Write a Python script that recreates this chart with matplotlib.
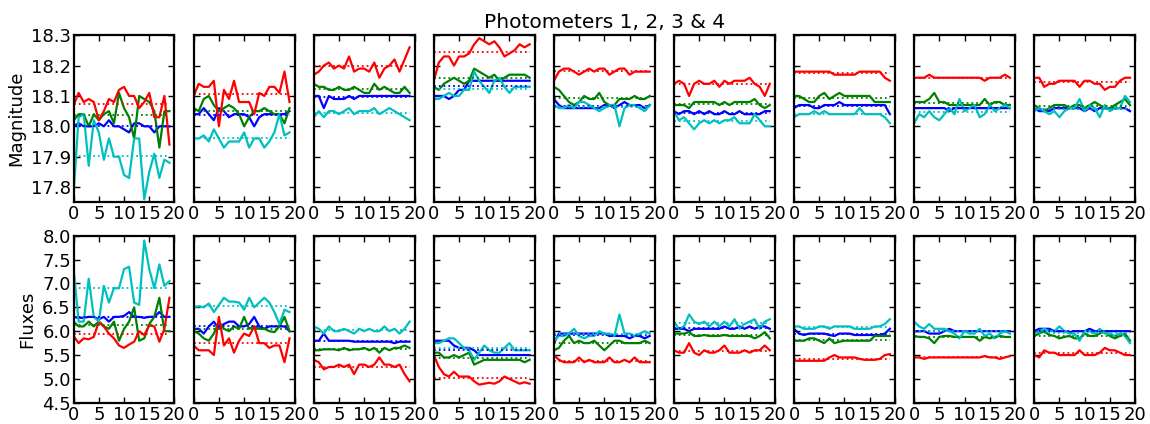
import numpy as np
import matplotlib
matplotlib.use('Agg')
import matplotlib.pyplot as plt

# 20 samples per run, 9 runs, 4 photometers (b, g, r, c)
samples = np.arange(20)

mag_b = [
    [18.00, 18.01, 18.00, 18.00, 18.00, 18.01, 18.00, 18.02, 18.00, 18.00, 17.99, 17.98, 18.01, 18.01, 18.00, 18.00, 17.98, 18.00, 18.00, 18.00],
    [18.04, 18.04, 18.06, 18.04, 18.02, 18.06, 18.05, 18.03, 18.04, 18.04, 18.04, 18.03, 18.00, 18.03, 18.04, 18.04, 18.04, 18.04, 18.04, 18.05],
    [18.10, 18.10, 18.06, 18.10, 18.09, 18.09, 18.09, 18.10, 18.09, 18.10, 18.10, 18.10, 18.10, 18.10, 18.10, 18.10, 18.10, 18.10, 18.10, 18.10],
    [18.10, 18.10, 18.10, 18.09, 18.10, 18.12, 18.12, 18.15, 18.15, 18.15, 18.15, 18.15, 18.15, 18.15, 18.15, 18.15, 18.15, 18.15, 18.15, 18.15],
    [18.09, 18.07, 18.06, 18.06, 18.06, 18.06, 18.06, 18.06, 18.06, 18.06, 18.07, 18.07, 18.06, 18.07, 18.08, 18.07, 18.07, 18.07, 18.06, 18.07],
    [18.05, 18.04, 18.05, 18.05, 18.04, 18.05, 18.04, 18.05, 18.04, 18.04, 18.05, 18.04, 18.04, 18.05, 18.04, 18.04, 18.04, 18.04, 18.05, 18.05],
    [18.06, 18.07, 18.07, 18.07, 18.06, 18.06, 18.07, 18.07, 18.07, 18.08, 18.07, 18.07, 18.07, 18.07, 18.07, 18.07, 18.07, 18.07, 18.07, 18.04],
    [18.06, 18.06, 18.06, 18.06, 18.06, 18.06, 18.06, 18.05, 18.06, 18.06, 18.06, 18.06, 18.06, 18.06, 18.06, 18.06, 18.06, 18.06, 18.06, 18.06],
    [18.06, 18.05, 18.05, 18.05, 18.06, 18.06, 18.06, 18.06, 18.06, 18.06, 18.05, 18.06, 18.05, 18.06, 18.06, 18.06, 18.06, 18.06, 18.06, 18.05],
]
mag_g = [
    [18.02, 18.04, 18.04, 18.00, 18.04, 18.02, 18.04, 18.05, 18.01, 18.11, 18.06, 18.03, 17.96, 18.10, 18.09, 18.08, 18.05, 17.93, 18.05, 18.05],
    [18.06, 18.05, 18.09, 18.10, 18.07, 18.05, 18.06, 18.07, 18.06, 18.04, 18.00, 18.03, 18.05, 18.05, 18.06, 18.05, 18.04, 18.04, 18.01, 18.06],
    [18.14, 18.13, 18.13, 18.12, 18.12, 18.13, 18.12, 18.12, 18.13, 18.12, 18.11, 18.11, 18.14, 18.12, 18.13, 18.12, 18.11, 18.11, 18.13, 18.11],
    [18.13, 18.12, 18.14, 18.15, 18.16, 18.15, 18.14, 18.15, 18.19, 18.18, 18.17, 18.16, 18.17, 18.15, 18.16, 18.17, 18.17, 18.17, 18.17, 18.16],
    [18.13, 18.12, 18.10, 18.08, 18.07, 18.08, 18.10, 18.09, 18.09, 18.11, 18.08, 18.07, 18.07, 18.09, 18.09, 18.09, 18.10, 18.09, 18.09, 18.10],
    [18.07, 18.07, 18.07, 18.06, 18.08, 18.08, 18.08, 18.08, 18.08, 18.07, 18.08, 18.07, 18.08, 18.08, 18.08, 18.08, 18.09, 18.07, 18.06, 18.07],
    [18.10, 18.10, 18.09, 18.08, 18.08, 18.10, 18.11, 18.09, 18.10, 18.11, 18.10, 18.10, 18.10, 18.10, 18.10, 18.10, 18.08, 18.08, 18.08, 18.08],
    [18.08, 18.08, 18.08, 18.09, 18.11, 18.08, 18.08, 18.07, 18.07, 18.07, 18.07, 18.07, 18.07, 18.07, 18.09, 18.07, 18.08, 18.08, 18.07, 18.07],
    [18.07, 18.06, 18.05, 18.06, 18.07, 18.07, 18.07, 18.06, 18.07, 18.07, 18.06, 18.07, 18.08, 18.07, 18.06, 18.06, 18.07, 18.08, 18.09, 18.07],
]
mag_r = [
    [18.07, 18.11, 18.08, 18.09, 18.08, 18.02, 18.05, 18.09, 18.08, 18.12, 18.13, 18.10, 18.10, 18.06, 18.08, 18.11, 18.03, 18.03, 18.10, 17.94],
    [18.10, 18.14, 18.13, 18.13, 18.15, 18.00, 18.12, 18.09, 18.15, 18.08, 18.08, 18.08, 18.04, 18.11, 18.10, 18.13, 18.13, 18.11, 18.18, 18.08],
    [18.17, 18.18, 18.20, 18.21, 18.19, 18.20, 18.19, 18.23, 18.18, 18.19, 18.19, 18.18, 18.21, 18.16, 18.19, 18.20, 18.22, 18.18, 18.22, 18.26],
    [18.15, 18.21, 18.23, 18.23, 18.20, 18.23, 18.23, 18.24, 18.27, 18.29, 18.28, 18.27, 18.28, 18.26, 18.23, 18.24, 18.25, 18.27, 18.26, 18.27],
    [18.15, 18.18, 18.19, 18.19, 18.18, 18.17, 18.18, 18.19, 18.18, 18.19, 18.19, 18.17, 18.18, 18.19, 18.19, 18.17, 18.18, 18.18, 18.18, 18.18],
    [18.14, 18.15, 18.14, 18.10, 18.14, 18.15, 18.14, 18.14, 18.15, 18.13, 18.15, 18.14, 18.15, 18.15, 18.15, 18.16, 18.14, 18.13, 18.10, 18.14],
    [18.18, 18.18, 18.18, 18.18, 18.18, 18.18, 18.18, 18.18, 18.17, 18.17, 18.17, 18.17, 18.17, 18.18, 18.18, 18.18, 18.18, 18.18, 18.16, 18.15],
    [18.16, 18.16, 18.16, 18.17, 18.16, 18.16, 18.16, 18.16, 18.16, 18.16, 18.16, 18.16, 18.16, 18.16, 18.15, 18.16, 18.16, 18.16, 18.17, 18.16],
    [18.16, 18.16, 18.13, 18.14, 18.14, 18.15, 18.15, 18.15, 18.15, 18.13, 18.15, 18.15, 18.14, 18.14, 18.12, 18.13, 18.13, 18.15, 18.16, 18.16],
]
mag_c = [
    [17.78, 18.03, 18.04, 17.87, 18.02, 17.98, 17.89, 17.96, 17.90, 17.90, 17.84, 17.83, 17.96, 17.96, 17.76, 17.85, 17.91, 17.83, 17.89, 17.88],
    [17.96, 17.96, 17.97, 17.95, 17.99, 17.96, 17.93, 17.95, 17.95, 17.95, 17.98, 17.93, 17.96, 17.96, 17.93, 17.95, 17.98, 18.04, 17.97, 17.98],
    [18.03, 18.05, 18.03, 18.05, 18.05, 18.04, 18.05, 18.06, 18.04, 18.05, 18.05, 18.05, 18.06, 18.04, 18.05, 18.06, 18.05, 18.04, 18.03, 18.02],
    [18.09, 18.09, 18.10, 18.11, 18.10, 18.10, 18.12, 18.12, 18.18, 18.15, 18.13, 18.11, 18.15, 18.16, 18.13, 18.11, 18.13, 18.13, 18.13, 18.13],
    [18.07, 18.06, 18.06, 18.07, 18.06, 18.08, 18.08, 18.07, 18.06, 18.05, 18.06, 18.07, 18.07, 18.00, 18.06, 18.07, 18.07, 18.06, 18.05, 18.07],
    [18.05, 18.02, 18.03, 18.01, 17.99, 18.01, 18.02, 18.01, 18.02, 18.01, 18.02, 18.02, 18.03, 18.01, 18.01, 18.01, 18.04, 18.02, 18.00, 18.00],
    [18.03, 18.04, 18.04, 18.04, 18.05, 18.04, 18.05, 18.04, 18.04, 18.04, 18.04, 18.04, 18.04, 18.06, 18.04, 18.04, 18.04, 18.04, 18.03, 18.01],
    [18.01, 18.04, 18.03, 18.05, 18.03, 18.02, 18.04, 18.06, 18.04, 18.09, 18.05, 18.06, 18.07, 18.03, 18.04, 18.07, 18.05, 18.06, 18.07, 18.06],
    [18.05, 18.06, 18.05, 18.04, 18.05, 18.03, 18.05, 18.06, 18.06, 18.09, 18.05, 18.07, 18.06, 18.03, 18.07, 18.05, 18.06, 18.06, 18.10, 18.08],
]

flux_b = [
    [6.30, 6.28, 6.28, 6.30, 6.30, 6.25, 6.30, 6.20, 6.30, 6.30, 6.32, 6.40, 6.30, 6.30, 6.28, 6.30, 6.30, 6.40, 6.30, 6.30],
    [6.05, 6.05, 5.95, 6.10, 6.20, 6.05, 6.15, 6.20, 6.20, 6.10, 6.10, 6.15, 6.30, 6.10, 6.05, 6.10, 6.10, 6.10, 6.10, 6.00],
    [5.80, 5.80, 5.95, 5.80, 5.80, 5.80, 5.80, 5.80, 5.78, 5.78, 5.78, 5.78, 5.78, 5.78, 5.78, 5.78, 5.75, 5.78, 5.78, 5.78],
    [5.80, 5.80, 5.80, 5.80, 5.70, 5.65, 5.65, 5.65, 5.60, 5.50, 5.50, 5.50, 5.50, 5.50, 5.50, 5.50, 5.50, 5.50, 5.50, 5.50],
    [5.75, 5.95, 5.95, 5.95, 5.95, 5.95, 5.95, 5.95, 5.95, 5.95, 5.95, 5.90, 5.90, 5.90, 5.90, 5.85, 5.90, 5.90, 5.85, 5.90],
    [6.05, 6.05, 6.05, 6.00, 6.05, 6.05, 6.05, 6.05, 6.05, 6.05, 6.10, 6.05, 6.05, 6.10, 6.05, 6.10, 6.05, 6.10, 6.10, 6.05],
    [6.05, 5.95, 5.92, 5.95, 5.95, 5.95, 5.95, 5.92, 5.90, 5.95, 5.95, 5.95, 5.92, 5.92, 5.92, 5.92, 5.92, 5.92, 5.95, 6.05],
    [6.00, 6.00, 6.00, 5.95, 5.95, 5.95, 6.00, 6.05, 6.00, 6.00, 6.00, 6.00, 6.00, 6.00, 6.00, 6.00, 6.00, 6.00, 6.00, 6.00],
    [6.00, 6.05, 6.05, 6.05, 6.00, 6.00, 6.00, 5.98, 6.00, 6.00, 6.00, 6.05, 6.00, 6.00, 6.00, 6.00, 6.00, 6.00, 6.00, 6.00],
]
flux_g = [
    [6.20, 6.10, 6.10, 6.20, 6.10, 6.20, 6.10, 6.05, 6.20, 5.80, 6.05, 6.20, 6.50, 5.80, 5.85, 6.15, 6.30, 6.70, 6.00, 6.00],
    [6.00, 5.95, 5.85, 5.80, 5.95, 6.20, 6.05, 6.00, 6.10, 6.05, 6.30, 6.05, 6.10, 6.05, 6.05, 6.00, 5.98, 6.10, 6.30, 6.00],
    [5.60, 5.60, 5.62, 5.62, 5.62, 5.60, 5.65, 5.60, 5.62, 5.62, 5.65, 5.60, 5.65, 5.55, 5.65, 5.60, 5.65, 5.65, 5.70, 5.65],
    [5.55, 5.55, 5.45, 5.45, 5.50, 5.45, 5.50, 5.55, 5.30, 5.35, 5.40, 5.40, 5.40, 5.40, 5.40, 5.40, 5.40, 5.40, 5.35, 5.40],
    [5.60, 5.65, 5.80, 5.90, 5.75, 5.80, 5.75, 5.75, 5.80, 5.70, 5.60, 5.70, 5.80, 5.80, 5.75, 5.75, 5.75, 5.75, 5.80, 5.75],
    [5.95, 5.95, 5.95, 5.98, 5.90, 5.90, 5.92, 5.90, 5.90, 5.90, 5.92, 5.90, 5.90, 5.90, 5.90, 5.90, 5.85, 5.90, 5.98, 5.85],
    [5.80, 5.80, 5.80, 5.85, 5.85, 5.80, 5.75, 5.85, 5.75, 5.78, 5.80, 5.80, 5.80, 5.80, 5.80, 5.80, 5.90, 5.90, 5.90, 5.90],
    [5.90, 5.88, 5.88, 5.85, 5.75, 5.88, 5.90, 5.90, 5.88, 5.88, 5.88, 5.88, 5.88, 5.80, 5.88, 5.85, 5.88, 5.90, 5.88, 5.88],
    [5.90, 5.95, 6.00, 5.92, 5.90, 5.85, 5.88, 5.90, 5.85, 5.85, 5.95, 5.90, 5.90, 5.95, 6.00, 5.90, 5.85, 5.90, 5.95, 5.80],
]
flux_r = [
    [5.90, 5.75, 5.85, 5.83, 5.88, 6.20, 6.10, 5.95, 5.85, 5.70, 5.65, 5.72, 5.78, 6.00, 5.92, 6.12, 6.10, 5.78, 6.05, 6.70],
    [5.70, 5.60, 5.60, 5.60, 5.50, 6.30, 5.70, 5.85, 5.55, 5.80, 5.95, 5.90, 6.10, 5.75, 5.75, 5.65, 5.70, 5.70, 5.35, 5.85],
    [5.40, 5.35, 5.20, 5.25, 5.25, 5.30, 5.25, 5.30, 5.10, 5.30, 5.30, 5.25, 5.30, 5.45, 5.30, 5.30, 5.25, 5.30, 5.10, 4.95],
    [5.50, 5.25, 5.10, 5.05, 5.15, 5.05, 5.05, 5.05, 4.95, 4.88, 4.90, 4.92, 4.90, 4.95, 5.05, 5.00, 4.95, 4.90, 4.93, 4.90],
    [5.50, 5.40, 5.35, 5.35, 5.35, 5.45, 5.35, 5.40, 5.35, 5.35, 5.35, 5.45, 5.35, 5.35, 5.40, 5.35, 5.45, 5.35, 5.35, 5.35],
    [5.60, 5.55, 5.55, 5.75, 5.55, 5.50, 5.60, 5.55, 5.55, 5.60, 5.70, 5.55, 5.55, 5.55, 5.60, 5.55, 5.60, 5.60, 5.70, 5.60],
    [5.38, 5.38, 5.38, 5.38, 5.38, 5.38, 5.38, 5.45, 5.50, 5.45, 5.45, 5.45, 5.45, 5.42, 5.40, 5.40, 5.40, 5.42, 5.50, 5.52],
    [5.45, 5.45, 5.42, 5.45, 5.45, 5.45, 5.45, 5.45, 5.45, 5.45, 5.45, 5.45, 5.45, 5.45, 5.48, 5.45, 5.45, 5.42, 5.45, 5.48],
    [5.50, 5.45, 5.60, 5.55, 5.55, 5.50, 5.50, 5.50, 5.50, 5.60, 5.50, 5.50, 5.50, 5.55, 5.65, 5.60, 5.60, 5.55, 5.50, 5.50],
]
flux_c = [
    [7.30, 6.20, 6.20, 7.10, 6.30, 6.20, 6.95, 6.60, 6.90, 6.90, 7.30, 7.35, 6.60, 6.55, 7.90, 7.30, 6.90, 7.40, 6.95, 7.05],
    [6.50, 6.52, 6.50, 6.58, 6.40, 6.55, 6.70, 6.62, 6.62, 6.60, 6.45, 6.70, 6.50, 6.60, 6.70, 6.60, 6.40, 6.15, 6.45, 6.40],
    [6.10, 6.05, 5.95, 6.10, 6.00, 6.00, 6.05, 6.00, 5.95, 6.05, 6.00, 6.05, 6.00, 6.00, 6.10, 6.00, 6.05, 5.95, 6.05, 6.20],
    [5.75, 5.75, 5.80, 5.85, 5.85, 5.75, 5.65, 5.60, 5.40, 5.55, 5.70, 5.60, 5.55, 5.55, 5.65, 5.75, 5.60, 5.60, 5.60, 5.60],
    [5.80, 5.90, 5.90, 5.95, 6.05, 5.90, 5.85, 5.90, 5.90, 6.00, 5.95, 5.95, 5.90, 6.35, 5.95, 5.95, 5.90, 5.95, 6.00, 5.95],
    [6.20, 6.05, 6.10, 6.35, 6.20, 6.15, 6.20, 6.10, 6.20, 6.10, 6.20, 6.10, 6.25, 6.05, 6.15, 6.20, 6.25, 6.05, 6.20, 6.25],
    [6.10, 6.10, 6.05, 6.05, 6.05, 6.10, 6.10, 6.05, 6.10, 6.10, 6.10, 6.10, 6.05, 6.05, 6.05, 6.05, 6.10, 6.10, 6.15, 6.25],
    [6.20, 6.10, 6.05, 6.15, 6.05, 6.05, 6.05, 6.00, 5.95, 5.85, 6.00, 5.95, 5.95, 6.05, 5.90, 5.95, 5.85, 5.95, 6.00, 5.95],
    [5.95, 6.00, 6.05, 6.00, 6.00, 6.10, 6.00, 5.95, 5.95, 5.80, 6.00, 6.00, 5.95, 6.05, 5.95, 5.95, 5.90, 5.95, 5.90, 5.75],
]

colors = ['b', 'g', 'r', 'c']
cyan = (0.0, 0.75, 0.75)

plt.rcParams['font.family'] = 'DejaVu Sans'
plt.rcParams['font.size'] = 13

fig, axes = plt.subplots(2, 9, figsize=(11.5, 4.24), dpi=100)
fig.subplots_adjust(left=0.064, right=0.987, top=0.917, bottom=0.05,
                    wspace=0.19, hspace=0.2)

rows = [(mag_b, mag_g, mag_r, mag_c), (flux_b, flux_g, flux_r, flux_c)]
for r, series in enumerate(rows):
    for k in range(9):
        ax = axes[r, k]
        for data, col in zip(series, colors):
            c = cyan if col == 'c' else col
            ax.plot(samples, data[k], color=c, lw=1.6)
        # mean of each photometer, dotted
        for data, col in zip(series, colors):
            c = cyan if col == 'c' else col
            m = np.mean(data[k])
            ax.plot(samples, [m] * len(samples), ':', color=c, lw=1.3)
        ax.set_xlim(0, 20)
        ax.set_xticks([0, 5, 10, 15, 20])
        if r == 0:
            ax.set_ylim(17.75, 18.3)
            ax.set_yticks([17.8, 17.9, 18.0, 18.1, 18.2, 18.3])
        else:
            ax.set_ylim(4.5, 8.0)
            ax.set_yticks(np.arange(4.5, 8.01, 0.5))
        ax.tick_params(direction='in', top=True, right=True, length=4,
                       width=1, labelsize=13, pad=2)
        for s in ax.spines.values():
            s.set_linewidth(1.6)
        if k > 0:
            ax.set_yticklabels([])

axes[0, 0].yaxis.set_major_formatter(plt.FormatStrFormatter('%.1f'))
axes[1, 0].yaxis.set_major_formatter(plt.FormatStrFormatter('%.1f'))
axes[0, 0].set_ylabel('Magnitude')
axes[1, 0].set_ylabel('Fluxes')
axes[0, 4].set_title('Photometers 1, 2, 3 & 4', fontsize=14.5, pad=5)

fig.savefig('out.png')
